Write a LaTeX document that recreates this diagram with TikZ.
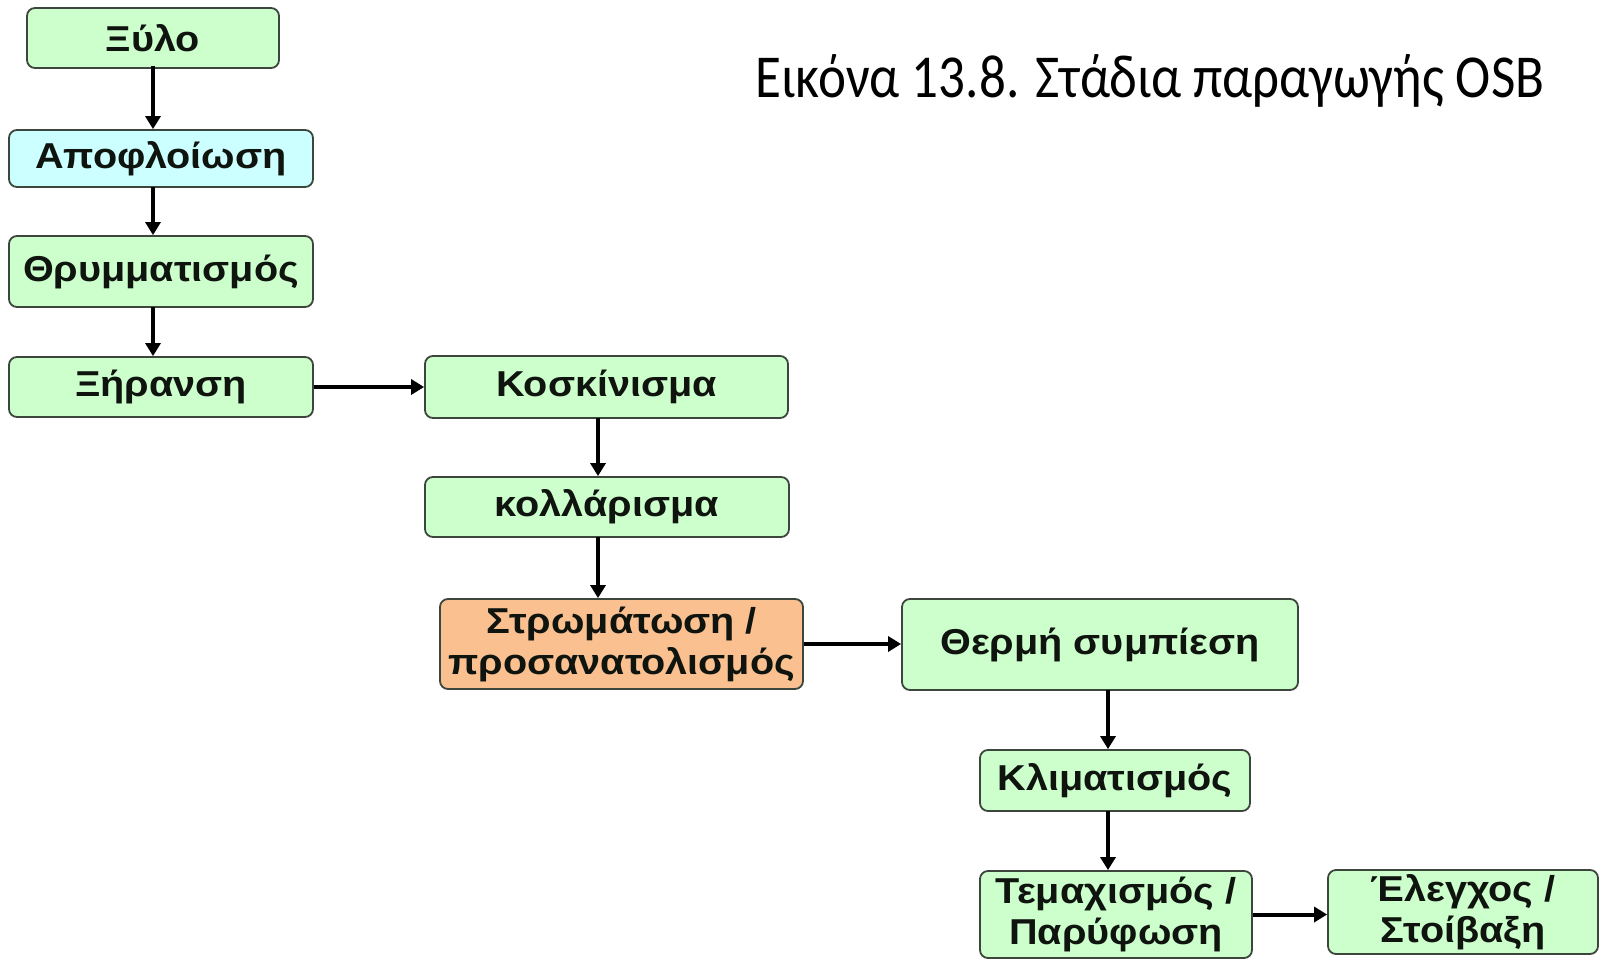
\documentclass[tikz,border=0pt]{standalone}
\usepackage{fontspec}
\setmainfont{Liberation Sans}[FakeStretch=1.10]
\newfontfamily\titlefont{Carlito}[FakeStretch=0.87]
\usetikzlibrary{arrows.meta}
\definecolor{boxgreen}{RGB}{204,255,204}
\definecolor{boxblue}{RGB}{204,255,255}
\definecolor{boxorange}{RGB}{250,192,144}
\definecolor{boxline}{RGB}{60,70,60}
\definecolor{boxtext}{RGB}{15,20,15}
\begin{document}
\begin{tikzpicture}[x=1pt,y=-1pt,
  stage/.style={draw=boxline, line width=1.8pt, rounded corners=8pt, fill=boxgreen, text=boxtext,
    font=\fontsize{36}{41}\selectfont\bfseries, align=center, inner sep=0pt},
  conn/.style={line width=4pt, -{Triangle[length=13pt,width=15pt]}}]
\useasboundingbox (0,0) rectangle (1600,958);
\newcommand{\stagebox}[7][boxgreen]{%
  \node[stage, fill=#1, minimum width=#4-#2, minimum height=#5-#3] (#6) at ({(#2+#4)/2},{(#3+#5)/2+2}) {#7};}
\stagebox{27}{6}{279}{66}{xylo}{Ξύλο}
\stagebox[boxblue]{9}{128}{313}{185}{apo}{Αποφλοίωση}
\stagebox{9}{234}{313}{305}{thry}{Θρυμματισμός}
\stagebox{9}{355}{313}{415}{xir}{Ξήρανση}
\stagebox{425}{354}{788}{416}{kosk}{Κοσκίνισμα}
\stagebox{425}{475}{789}{535}{koll}{κολλάρισμα}
\stagebox[boxorange]{440}{597}{803}{687}{strom}{Στρωμάτωση /\\προσανατολισμός}
\stagebox{902}{597}{1298}{688}{therm}{Θερμή συμπίεση}
\stagebox{980}{748}{1250}{809}{klim}{Κλιματισμός}
\stagebox{980}{869}{1252}{956}{temax}{Τεμαχισμός /\\Παρύφωση}
\stagebox{1328}{868}{1598}{952}{elegx}{Έλεγχος /\\Στοίβαξη}
\node[anchor=base west, inner sep=0pt, font=\titlefont\fontsize{61}{63}\selectfont] (title) at (755,97) {Εικόνα 13.8. Στάδια παραγωγής OSB};
% connectors
\coordinate (a1) at (153,66);
\draw[conn] (a1) -- (a1 |- apo.north);
\coordinate (a2) at (153,187);
\draw[conn] (a2) -- (a2 |- thry.north);
\coordinate (a3) at (153,307);
\draw[conn] (a3) -- (a3 |- xir.north);
\draw[conn] (xir.east) -- (kosk.west);
\coordinate (a4) at (598,418);
\draw[conn] (a4) -- (a4 |- koll.north);
\coordinate (a5) at (598,537);
\draw[conn] (a5) -- (a5 |- strom.north);
\draw[conn] (strom.east) -- (strom.east -| therm.west);
\coordinate (a6) at (1108,690);
\draw[conn] (a6) -- (a6 |- klim.north);
\coordinate (a7) at (1108,811);
\draw[conn] (a7) -- (a7 |- temax.north);
\draw[conn] (temax.east) -- (temax.east -| elegx.west);
\end{tikzpicture}
\end{document}
